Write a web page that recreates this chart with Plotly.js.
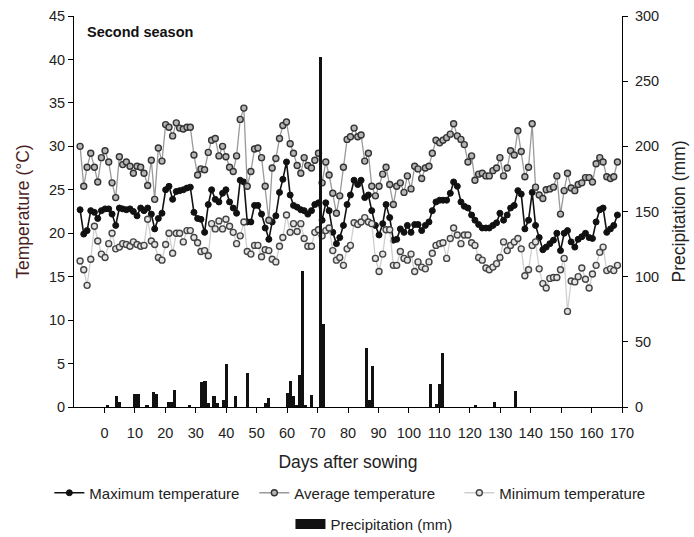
<!DOCTYPE html>
<html>
<head>
<meta charset="utf-8">
<script src="https://cdn.plot.ly/plotly-3.0.1.min.js"></script>
<style>html,body{margin:0;padding:0;background:#fff;}#chart{width:694px;height:537px;}</style>
</head>
<body>
<div id="chart"></div>
<script>
// Sample positions (days after sowing) of the temperature readings
const tempDays = [-8.0,-6.8,-5.7,-4.5,-3.3,-2.2,-1.0,0.2,1.4,2.5,
3.7,4.9,6.0,7.2,8.4,9.5,10.7,11.9,13.0,14.2,
15.4,16.5,17.7,18.9,20.1,21.2,22.4,23.6,24.7,25.9,
27.1,28.2,29.4,30.6,31.7,32.9,34.1,35.2,36.4,37.6,
38.8,39.9,41.1,42.3,43.4,44.6,45.8,46.9,48.1,49.3,
50.4,51.6,52.8,54.0,55.1,56.3,57.5,58.6,59.8,61.0,
62.1,63.3,64.5,65.6,66.8,68.0,69.1,70.3,71.5,72.7,
73.8,75.0,76.2,77.3,78.5,79.7,80.8,82.0,83.2,84.3,
85.5,86.7,87.8,89.0,90.2,91.4,92.5,93.7,94.9,96.0,
97.2,98.4,99.5,100.7,101.9,103.0,104.2,105.4,106.6,107.7,
108.9,110.1,111.2,112.4,113.6,114.7,115.9,117.1,118.2,119.4,
120.6,121.7,122.9,124.1,125.3,126.4,127.6,128.8,129.9,131.1,
132.3,133.4,134.6,135.8,136.9,138.1,139.3,140.5,141.6,142.8,
144.0,145.1,146.3,147.5,148.6,149.8,151.0,152.1,153.3,154.5,
155.6,156.8,158.0,159.2,160.3,161.5,162.7,163.8,165.0,166.2,
167.3,168.5];

const maxTemp = [22.7,19.9,20.3,22.6,22.4,21.7,22.6,22.8,22.8,22.2,
20.9,22.9,22.8,22.7,22.8,22.5,22.0,22.9,22.6,22.9,
22.2,20.5,21.7,22.3,25.0,25.4,23.9,24.8,24.9,25.0,
25.2,25.3,22.4,21.7,21.6,20.1,23.3,25.0,23.9,23.6,
24.6,25.0,23.6,22.9,22.3,26.1,25.9,21.3,21.3,23.2,
23.2,22.2,20.6,19.3,21.3,22.0,24.7,26.2,28.2,24.4,
23.2,23.0,22.7,22.6,22.2,22.6,23.3,23.5,21.5,23.5,
22.6,20.1,18.8,19.5,20.9,23.3,24.4,26.1,25.6,26.1,
24.1,24.4,22.6,20.9,19.8,21.1,23.3,21.8,19.2,19.3,
20.5,20.1,20.9,20.1,21.0,21.0,20.3,20.9,21.3,22.6,
23.6,23.8,23.8,23.8,24.6,25.9,25.4,23.6,23.1,22.9,
22.1,21.5,21.0,20.6,20.6,20.6,20.9,21.2,22.3,21.5,
22.1,22.9,23.2,24.9,24.5,20.5,21.5,24.7,20.9,19.5,
18.1,18.4,18.8,19.2,20.0,18.0,20.0,20.3,19.0,18.4,
19.3,19.6,20.0,19.5,19.4,21.3,22.7,22.9,20.1,20.5,
20.9,22.1];

const avgTemp = [30.0,25.4,27.6,29.2,27.6,25.9,28.7,29.5,28.2,25.8,
24.1,28.8,27.9,28.2,27.7,26.9,27.7,27.6,26.9,25.5,
28.4,23.9,29.8,28.3,32.5,32.2,31.2,32.7,32.1,32.0,
32.2,32.2,29.0,26.7,27.4,27.3,29.3,30.7,30.9,28.9,
30.0,28.8,27.6,27.1,28.9,33.1,34.4,25.4,27.1,29.7,
29.8,28.7,25.4,21.5,27.5,28.6,30.9,32.4,32.8,30.3,
29.2,27.8,26.9,28.7,27.8,27.5,28.4,29.2,25.8,28.2,
26.7,24.6,22.3,24.3,27.6,30.8,31.1,32.1,31.1,31.3,
28.3,29.2,25.4,24.3,25.4,26.8,27.6,25.6,23.3,25.4,
25.8,24.7,26.6,25.1,27.7,27.4,26.3,27.5,27.7,29.2,
30.7,30.4,30.7,31.0,31.4,32.6,31.2,30.8,30.2,28.2,
28.9,26.1,26.8,26.9,26.6,26.6,27.2,27.5,28.7,26.6,
27.5,29.5,29.0,31.8,29.4,26.5,27.6,32.6,25.3,24.4,
24.0,25.0,25.1,25.3,26.6,22.2,24.9,26.9,25.2,24.9,
25.6,25.8,26.4,26.4,25.9,28.0,28.7,28.2,26.5,26.3,
26.5,28.2];

const minTemp = [16.8,15.8,14.0,17.0,20.8,19.1,17.6,17.2,18.8,20.0,
18.2,18.4,18.8,18.7,18.5,19.0,18.7,18.5,18.6,21.6,
19.1,18.7,17.2,16.9,18.7,20.0,17.7,20.0,20.0,19.0,
20.3,20.3,19.5,18.9,17.9,18.0,17.4,21.1,20.5,21.4,
20.5,21.6,20.8,20.1,18.8,19.7,21.3,17.9,17.6,18.6,
18.6,17.3,18.1,18.0,17.0,16.7,18.5,19.5,22.1,20.1,
21.1,20.2,21.1,19.4,18.5,18.5,20.1,20.4,19.7,20.3,
20.6,18.0,16.9,17.2,16.3,18.2,18.6,21.2,21.0,21.3,
21.8,21.3,21.1,17.1,15.6,17.6,20.4,20.4,16.3,16.3,
17.9,17.1,16.9,17.6,15.6,16.7,16.1,15.9,16.7,17.7,
18.6,18.8,18.9,17.1,19.4,20.6,19.8,18.8,19.8,19.8,
18.9,18.6,17.2,16.9,16.0,15.8,16.1,16.5,17.2,19.0,
18.0,18.6,19.0,19.4,18.2,15.1,15.8,18.6,19.0,15.9,
14.2,13.7,14.8,14.9,14.9,15.8,17.1,11.0,14.5,14.4,
15.0,16.0,14.7,13.7,15.3,16.3,17.8,18.4,15.7,15.9,
15.7,16.3];

// Precipitation (mm)
const rainDays = [1,4,5,10,11,14,16,17,21,22,23,28,32,33,34,36,37,39,40,43,47,53,54,60,61,62,63,64,65,66,68,71,72,86,87,88,107,109,110,111,122,128,135];
const rainMm   = [1.2,8.1,3.8,10.0,10.2,1.2,11.5,10.0,4.1,4.1,12.8,1.2,18.9,20.2,3.1,8.7,3.3,5.4,33.0,8.1,26.1,3.1,6.9,10.7,19.7,8.1,1.2,24.3,104.6,1.3,8.9,268.5,63.7,45.3,5.6,31.2,17.9,2.3,17.6,41.4,1.2,3.8,12.0];

const xTicks = [0,10,20,30,40,50,60,70,80,90,100,110,120,130,140,150,160,170];
const seriesNames = ['Maximum temperature','Average temperature','Minimum temperature','Precipitation (mm)'];

const fam = 'Liberation Sans, Arial, sans-serif';
const tickFont = {family: fam, size: 14.5, color: '#222'};

const traces = [
  {x: tempDays, y: maxTemp, name: seriesNames[0], type: 'scatter', mode: 'lines+markers', legend: 'legend',
   line: {color: '#111', width: 1.6}, marker: {symbol: 'circle', size: 6, color: '#111', line: {color: '#111', width: 1}}},
  {x: tempDays, y: avgTemp, name: seriesNames[1], type: 'scatter', mode: 'lines+markers', legend: 'legend',
   line: {color: '#9a9a9a', width: 1.3}, marker: {symbol: 'circle', size: 6, color: '#b5b5b5', line: {color: '#333', width: 1.4}}},
  {x: tempDays, y: minTemp, name: seriesNames[2], type: 'scatter', mode: 'lines+markers', legend: 'legend',
   line: {color: '#cfcfcf', width: 1.3}, marker: {symbol: 'circle', size: 6, color: '#e4e4e4', line: {color: '#444', width: 1.4}}},
  {x: rainDays, y: rainMm, name: seriesNames[3], type: 'bar', yaxis: 'y2', width: 1.05,
   marker: {color: '#111', line: {width: 0}}, showlegend: false},
  // legend key for precipitation (wide filled block, no data drawn)
  {x: [null], y: [null], name: seriesNames[3], type: 'scatter', mode: 'lines', yaxis: 'y2',
   line: {color: '#111', width: 12}, legend: 'legend2', hoverinfo: 'skip'}
];

const layout = {
  width: 694, height: 537,
  margin: {l: 74, r: 72, t: 16, b: 130, autoexpand: false},
  paper_bgcolor: '#fff', plot_bgcolor: '#fff',
  font: {family: fam, size: 14, color: '#222'},
  showlegend: true,
  xaxis: {range: [-10, 170], tickmode: 'array', tickvals: xTicks, ticks: 'outside', ticklen: 5,
    tickcolor: '#000', showline: true, linecolor: '#000', linewidth: 1, showgrid: false, zeroline: false,
    ticklabelstandoff: 8, tickfont: tickFont,
    title: {text: 'Days after sowing', font: {family: fam, size: 17.5, color: '#222'}, standoff: 15}},
  yaxis: {range: [0, 45], tick0: 0, dtick: 5, ticks: 'outside', ticklen: 5, tickcolor: '#000',
    showline: true, linecolor: '#000', linewidth: 1, showgrid: false, zeroline: false, tickfont: tickFont,
    title: {text: 'Temperature (°C)', font: {family: fam, size: 17.5, color: '#4a1f1f'}, standoff: 14}},
  yaxis2: {range: [0, 300], tick0: 0, dtick: 50, overlaying: 'y', side: 'right', ticks: 'outside', ticklen: 5,
    tickcolor: '#000', showline: true, linecolor: '#000', linewidth: 1, showgrid: false, zeroline: false,
    tickfont: tickFont, ticklabelstandoff: 4,
    title: {text: 'Precipitation (mm)', font: {family: fam, size: 17.5, color: '#222'}, standoff: 14}},
  legend: {orientation: 'h', x: -0.045, xanchor: 'left', y: -0.22, yanchor: 'middle',
    font: {family: fam, size: 15, color: '#222'}, bgcolor: 'rgba(0,0,0,0)', itemwidth: 30,
    entrywidth: 160, entrywidthmode: 'pixels'},
  legend2: {orientation: 'h', x: 0.395, xanchor: 'left', y: -0.30, yanchor: 'middle',
    font: {family: fam, size: 15, color: '#222'}, bgcolor: 'rgba(0,0,0,0)', itemwidth: 30},
  annotations: [{text: '<b>Second season</b>', xref: 'paper', yref: 'paper', x: 0.02, y: 0.985,
    xanchor: 'left', yanchor: 'top', showarrow: false, font: {family: fam, size: 14.5, color: '#111'}}],
  bargap: 0
};

Plotly.newPlot('chart', traces, layout, {displayModeBar: false, staticPlot: true});
</script>
</body>
</html>
